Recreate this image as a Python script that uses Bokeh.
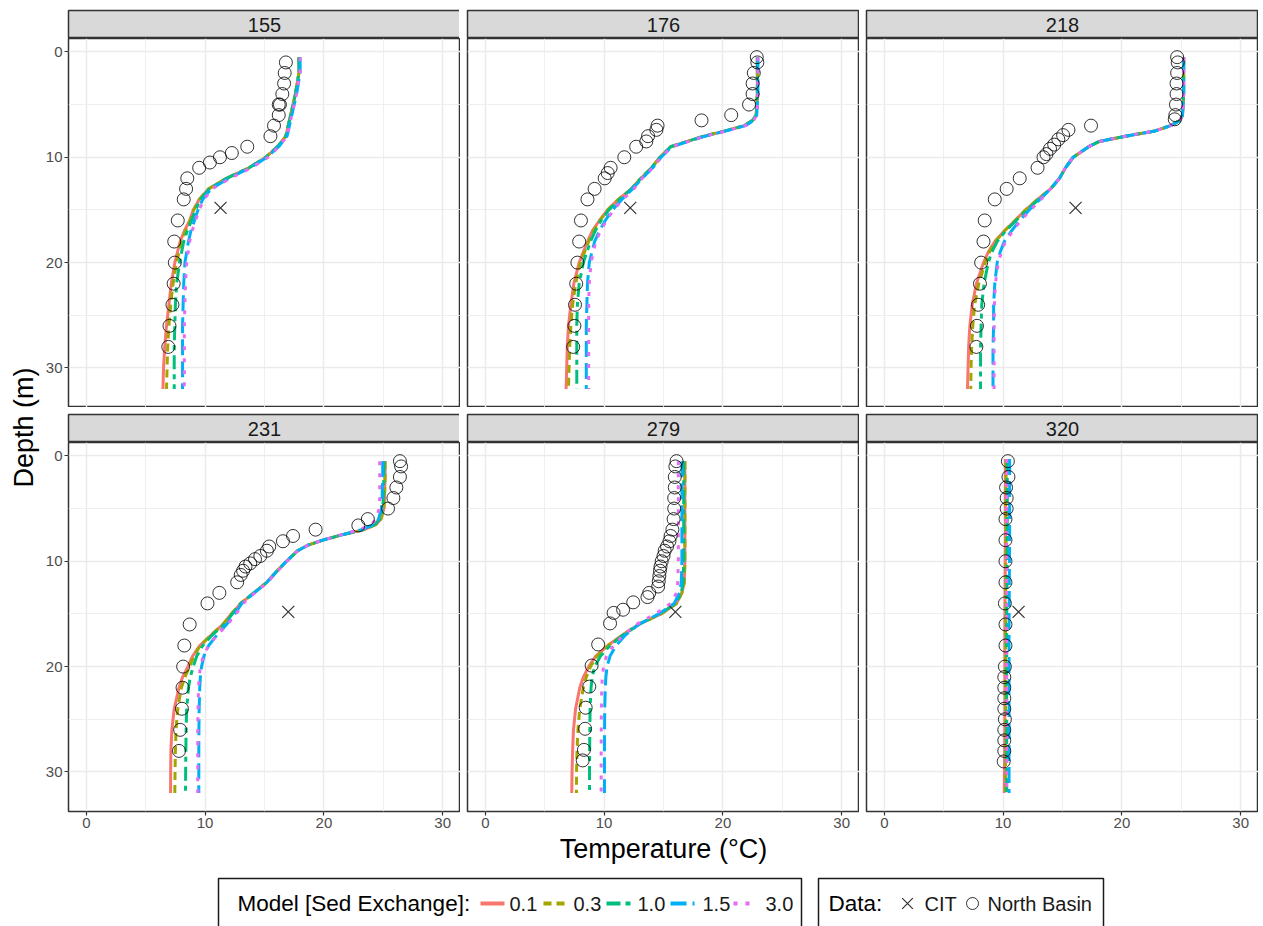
import math

from bokeh.plotting import figure
from bokeh.layouts import column, row
from bokeh.models import Range1d, FixedTicker
from bokeh.embed import file_html
from bokeh.resources import INLINE
from bokeh.core.properties import value

# ---------------------------------------------------------------- data
stations = ["155", "176", "218", "231", "279", "320"]
exchange_labels = ["0.1", "0.3", "1.0", "1.5", "3.0"]
x_ticks = [0, 10, 20, 30]
y_ticks = [0, 10, 20, 30]

# modelled profiles (temperature in degC at each depth in m), one list per sediment-exchange run
depth_155 = [0.5, 2, 4, 6, 7, 8, 9, 10, 11, 12, 13, 14, 15, 16, 17, 18, 20, 22, 24, 26, 28, 30, 32]
t01_155 = [17.9, 17.9, 17.6, 17.2, 17.0, 16.8, 16.1, 15.1, 13.7, 11.8, 10.3, 9.5, 9.0, 8.7, 8.25, 7.9, 7.45, 7.15, 6.95, 6.75, 6.6, 6.5, 6.45]
t03_155 = [17.9, 17.9, 17.6, 17.2, 17.0, 16.8, 16.1, 15.1, 13.7, 11.8, 10.3, 9.5, 9.05, 8.75, 8.35, 8.0, 7.6, 7.3, 7.1, 6.95, 6.85, 6.8, 6.75]
t10_155 = [17.9, 17.9, 17.6, 17.2, 17.0, 16.8, 16.1, 15.1, 13.7, 11.8, 10.35, 9.6, 9.2, 8.85, 8.5, 8.2, 7.85, 7.6, 7.5, 7.45, 7.4, 7.4, 7.4]
t15_155 = [18.0, 18.0, 17.7, 17.3, 17.1, 16.9, 16.2, 15.2, 13.8, 12.0, 10.5, 9.8, 9.4, 9.1, 8.8, 8.6, 8.3, 8.2, 8.15, 8.1, 8.1, 8.1, 8.1]
t30_155 = [18.0, 18.0, 17.7, 17.3, 17.1, 16.9, 16.2, 15.3, 13.9, 12.1, 10.6, 9.9, 9.5, 9.2, 8.9, 8.7, 8.45, 8.35, 8.3, 8.25, 8.25, 8.25, 8.25]

depth_176 = [0.5, 2, 4, 6, 6.5, 7, 7.5, 8, 8.5, 9, 10, 11, 12, 13, 14, 15, 16, 17, 18, 20, 22, 24, 26, 28, 30, 32]
t01_176 = [22.9, 22.9, 22.9, 22.8, 22.5, 21.8, 20.2, 18.4, 17.0, 15.6, 14.7, 14.0, 13.1, 12.3, 11.2, 10.3, 9.6, 9.0, 8.6, 7.9, 7.45, 7.2, 7.0, 6.9, 6.85, 6.8]
t03_176 = [22.9, 22.9, 22.9, 22.8, 22.5, 21.8, 20.2, 18.4, 17.0, 15.6, 14.7, 14.0, 13.1, 12.3, 11.2, 10.3, 9.65, 9.1, 8.7, 8.0, 7.6, 7.35, 7.2, 7.1, 7.05, 7.0]
t10_176 = [22.9, 22.9, 22.9, 22.8, 22.5, 21.8, 20.2, 18.4, 17.0, 15.6, 14.7, 14.0, 13.1, 12.3, 11.3, 10.4, 9.75, 9.25, 8.85, 8.25, 7.9, 7.75, 7.7, 7.7, 7.7, 7.7]
t15_176 = [22.95, 22.95, 22.95, 22.85, 22.6, 21.9, 20.3, 18.5, 17.1, 15.7, 14.8, 14.1, 13.2, 12.4, 11.5, 10.7, 10.1, 9.6, 9.2, 8.75, 8.6, 8.55, 8.5, 8.5, 8.5, 8.5]
t30_176 = [22.95, 22.95, 22.95, 22.85, 22.6, 21.9, 20.3, 18.5, 17.1, 15.7, 14.8, 14.1, 13.2, 12.5, 11.6, 10.8, 10.2, 9.7, 9.3, 8.9, 8.75, 8.7, 8.7, 8.7, 8.7, 8.7]

depth_218 = [0.5, 2, 4, 6, 6.5, 7, 7.5, 8, 8.5, 9, 10, 11, 12, 13, 14, 15, 16, 17, 18, 19, 20, 22, 24, 26, 28, 30, 32]
t01_218 = [25.2, 25.2, 25.2, 25.1, 24.9, 24.1, 22.8, 20.3, 18.1, 17.2, 15.9, 15.25, 14.75, 14.0, 12.9, 11.9, 11.0, 10.1, 9.3, 8.75, 8.35, 7.75, 7.4, 7.2, 7.1, 7.05, 7.0]
t03_218 = [25.2, 25.2, 25.2, 25.1, 24.9, 24.1, 22.8, 20.3, 18.1, 17.2, 15.9, 15.25, 14.75, 14.0, 12.9, 11.9, 11.0, 10.1, 9.35, 8.85, 8.5, 7.95, 7.6, 7.45, 7.35, 7.3, 7.28]
t10_218 = [25.2, 25.2, 25.2, 25.1, 24.9, 24.1, 22.8, 20.3, 18.1, 17.2, 15.9, 15.25, 14.75, 14.0, 13.0, 12.0, 11.1, 10.2, 9.5, 9.05, 8.75, 8.4, 8.2, 8.15, 8.1, 8.1, 8.1]
t15_218 = [25.2, 25.2, 25.2, 25.1, 24.9, 24.1, 22.8, 20.3, 18.1, 17.2, 15.9, 15.25, 14.75, 14.0, 13.1, 12.2, 11.4, 10.7, 10.1, 9.75, 9.5, 9.3, 9.2, 9.2, 9.15, 9.15, 9.15]
t30_218 = [25.2, 25.2, 25.2, 25.1, 24.9, 24.1, 22.8, 20.3, 18.1, 17.2, 15.9, 15.25, 14.75, 14.0, 13.2, 12.3, 11.5, 10.8, 10.2, 9.85, 9.6, 9.35, 9.27, 9.25, 9.24, 9.24, 9.24]

depth_231 = [0.5, 2, 4, 5, 6, 6.5, 7, 7.5, 8, 8.5, 9, 10, 11, 12, 13, 14, 15, 16, 17, 18, 19, 20, 21, 22, 24, 26, 28, 30, 32]
t01_231 = [25.15, 25.15, 25.1, 25.05, 24.8, 24.4, 23.4, 21.5, 19.9, 18.6, 17.8, 16.85, 16.0, 15.2, 14.1, 13.0, 12.2, 11.5, 10.5, 9.55, 8.95, 8.55, 8.1, 7.8, 7.4, 7.2, 7.12, 7.1, 7.09]
t03_231 = [25.15, 25.15, 25.1, 25.05, 24.8, 24.4, 23.4, 21.5, 19.9, 18.6, 17.8, 16.85, 16.0, 15.2, 14.1, 13.0, 12.2, 11.5, 10.5, 9.6, 9.05, 8.7, 8.3, 8.0, 7.7, 7.55, 7.5, 7.47, 7.45]
t10_231 = [25.05, 25.05, 25.0, 24.95, 24.7, 24.3, 23.3, 21.5, 19.9, 18.6, 17.8, 16.85, 16.0, 15.2, 14.1, 13.0, 12.3, 11.6, 10.6, 9.8, 9.3, 9.0, 8.75, 8.6, 8.45, 8.4, 8.38, 8.36, 8.35]
t15_231 = [24.95, 24.95, 24.9, 24.85, 24.6, 24.2, 23.2, 21.5, 19.9, 18.6, 17.8, 16.85, 16.0, 15.2, 14.15, 13.1, 12.5, 11.8, 11.0, 10.3, 9.9, 9.7, 9.6, 9.55, 9.5, 9.48, 9.47, 9.47, 9.47]
t30_231 = [24.7, 24.7, 24.7, 24.65, 24.4, 24.0, 23.0, 21.4, 19.9, 18.6, 17.8, 16.9, 16.05, 15.25, 14.2, 13.2, 12.6, 11.9, 11.0, 10.3, 9.85, 9.6, 9.5, 9.45, 9.4, 9.38, 9.38, 9.38, 9.38]

depth_279 = [0.5, 2, 4, 6, 8, 10, 12, 13, 14, 15, 16, 17, 18, 19, 20, 21, 22, 24, 26, 28, 30, 32]
t01_279 = [16.8, 16.8, 16.8, 16.8, 16.8, 16.8, 16.75, 16.55, 16.1, 14.8, 12.9, 11.55, 10.3, 9.3, 8.7, 8.25, 7.95, 7.6, 7.42, 7.35, 7.3, 7.28]
t03_279 = [16.8, 16.8, 16.8, 16.8, 16.8, 16.8, 16.75, 16.55, 16.1, 14.8, 12.9, 11.55, 10.35, 9.4, 8.85, 8.5, 8.25, 7.95, 7.8, 7.72, 7.68, 7.67]
t10_279 = [16.7, 16.7, 16.7, 16.7, 16.7, 16.7, 16.65, 16.5, 16.0, 14.7, 12.9, 11.6, 10.5, 9.7, 9.2, 9.0, 8.9, 8.82, 8.8, 8.78, 8.77, 8.77]
t15_279 = [16.55, 16.55, 16.55, 16.55, 16.55, 16.55, 16.5, 16.35, 15.9, 14.6, 12.9, 11.8, 11.0, 10.5, 10.25, 10.15, 10.1, 10.05, 10.04, 10.03, 10.03, 10.03]
t30_279 = [16.25, 16.25, 16.25, 16.25, 16.25, 16.25, 16.2, 16.1, 15.6, 14.3, 12.7, 11.6, 10.8, 10.2, 9.95, 9.85, 9.8, 9.77, 9.76, 9.75, 9.75, 9.75]

depth_320 = [0.3, 8, 16, 24, 32]
t01_320 = [10.2, 10.2, 10.15, 10.15, 10.1]
t03_320 = [10.25, 10.25, 10.2, 10.2, 10.2]
t10_320 = [10.35, 10.35, 10.3, 10.3, 10.3]
t15_320 = [10.55, 10.55, 10.5, 10.5, 10.5]
t30_320 = [10.3, 10.3, 10.3, 10.3, 10.3]

# North Basin profiles (observed)
obs_depth_155 = [1, 2, 3, 4, 5, 5, 6, 7, 8, 9, 9.6, 10, 10.5, 11, 12, 13, 14, 16, 18, 20, 22, 24, 26, 28]
obs_temp_155 = [16.8, 16.7, 16.65, 16.5, 16.2, 16.3, 16.2, 15.8, 15.5, 13.55, 12.25, 11.25, 10.4, 9.5, 8.5, 8.4, 8.2, 7.7, 7.4, 7.45, 7.35, 7.25, 7.0, 6.9]

obs_depth_176 = [0.5, 1, 2, 3, 4, 5, 6, 6.5, 7, 7.4, 8, 8.5, 9, 10, 11, 11.5, 12, 13, 14, 16, 18, 20, 22, 24, 26, 28]
obs_temp_176 = [22.85, 22.9, 22.6, 22.5, 22.5, 22.2, 20.7, 18.2, 14.5, 14.4, 13.7, 13.55, 12.7, 11.7, 10.55, 10.3, 10.05, 9.2, 8.6, 8.05, 7.9, 7.75, 7.65, 7.55, 7.5, 7.4]

obs_depth_218 = [0.5, 1, 2, 3, 4, 5, 6, 6.4, 7, 7.4, 7.9, 8.3, 8.8, 9.2, 9.7, 10, 11, 12, 13, 14, 16, 18, 20, 22, 24, 26, 28]
obs_temp_218 = [24.65, 24.7, 24.65, 24.6, 24.6, 24.55, 24.5, 24.45, 17.4, 15.5, 15.05, 14.65, 14.3, 13.95, 13.65, 13.4, 12.9, 11.4, 10.3, 9.3, 8.45, 8.35, 8.15, 8.05, 7.9, 7.8, 7.75]

obs_depth_231 = [0.5, 1, 2, 3, 4, 5, 6, 6.6, 7, 7.6, 8.1, 8.6, 9, 9.5, 9.8, 10.2, 10.5, 10.9, 11.3, 12, 13, 14, 16, 18, 20, 22, 24, 26, 28]
obs_temp_231 = [26.4, 26.5, 26.4, 26.1, 25.85, 25.4, 23.7, 22.9, 19.3, 17.4, 16.55, 15.4, 15.2, 14.65, 14.2, 13.8, 13.4, 13.2, 13.0, 12.7, 11.2, 10.2, 8.7, 8.25, 8.15, 8.1, 8.05, 7.9, 7.8]

obs_depth_279 = [0.5, 1, 2, 3, 4, 5, 6, 7, 7.6, 8.1, 8.6, 9, 9.5, 10, 10.5, 10.9, 11.4, 11.9, 12.4, 13, 13.4, 13.9, 14.6, 14.9, 15.9, 17.9, 19.9, 21.9, 23.9, 25.9, 27.9, 28.9]
obs_temp_279 = [16.1, 16.0, 15.95, 15.95, 15.9, 15.9, 15.85, 15.75, 15.6, 15.5, 15.3, 15.1, 15.0, 14.85, 14.75, 14.7, 14.65, 14.6, 14.55, 13.8, 13.65, 12.45, 11.6, 10.8, 10.5, 9.5, 8.95, 8.75, 8.45, 8.4, 8.3, 8.2]

obs_depth_320 = [0.5, 2, 3, 4, 5, 6, 8, 10, 12, 14, 16, 18, 20, 21, 22, 23, 24, 25, 26, 27, 28, 29]
obs_temp_320 = [10.4, 10.45, 10.25, 10.3, 10.3, 10.2, 10.2, 10.2, 10.2, 10.15, 10.2, 10.2, 10.15, 10.1, 10.1, 10.1, 10.1, 10.15, 10.1, 10.1, 10.1, 10.05]

# CIT single readings, one per station (same order as `stations`)
cit_temp = [11.3, 12.2, 16.1, 17.0, 16.0, 11.3]
cit_depth = [14.8, 14.8, 14.8, 14.8, 14.8, 14.8]

model_depths = [depth_155, depth_176, depth_218, depth_231, depth_279, depth_320]
model_temps = [
    [t01_155, t03_155, t10_155, t15_155, t30_155],
    [t01_176, t03_176, t10_176, t15_176, t30_176],
    [t01_218, t03_218, t10_218, t15_218, t30_218],
    [t01_231, t03_231, t10_231, t15_231, t30_231],
    [t01_279, t03_279, t10_279, t15_279, t30_279],
    [t01_320, t03_320, t10_320, t15_320, t30_320],
]
obs_depths = [obs_depth_155, obs_depth_176, obs_depth_218, obs_depth_231, obs_depth_279, obs_depth_320]
obs_temps = [obs_temp_155, obs_temp_176, obs_temp_218, obs_temp_231, obs_temp_279, obs_temp_320]

# ---------------------------------------------------------------- style
FONT = "Liberation Sans"
COLORS = ["#F8766D", "#A3A500", "#00BF7D", "#00B0F6", "#E76BF3"]
DASHES = ["solid", "8 5", "14 5 5 5", "16 6", "4 8"]
LINE_W = 3
FRAME_W = 392
FRAME_H = 369
STRIP_H = 28
LEFT_AXIS_W = 25
GAP = 7
BOTTOM_AXIS_H = 62
LABEL_W = 42


def make_strip(label, first_col, top_pad):
    s = figure(frame_width=FRAME_W, frame_height=STRIP_H,
               x_range=Range1d(0, 1), y_range=Range1d(0, 1),
               x_axis_location=None, y_axis_location=None,
               output_backend="svg", toolbar_location=None,
               min_border=0, min_border_left=LEFT_AXIS_W if first_col else GAP,
               min_border_top=top_pad)
    s.grid.grid_line_color = None
    s.background_fill_color = "#D9D9D9"
    s.border_fill_color = "white"
    s.outline_line_color = "#333333"
    s.outline_line_width = 1.5
    s.text(x=[0.5], y=[0.5], text=[label], text_align="center", text_baseline="middle",
           text_font=value(FONT), text_font_size="20px", text_color="#1A1A1A")
    return s


def make_panel(idx, first_col, bottom_row, xlabel=None):
    p = figure(frame_width=FRAME_W, frame_height=FRAME_H,
               x_range=Range1d(-1.5, 31.5), y_range=Range1d(33.75, -1.27),
               x_axis_location="below" if bottom_row else None,
               y_axis_location="left" if first_col else None,
               output_backend="svg", toolbar_location=None,
               min_border=0, min_border_left=LEFT_AXIS_W if first_col else GAP,
               min_border_bottom=BOTTOM_AXIS_H if bottom_row else 0)
    p.background_fill_color = "white"
    p.border_fill_color = "white"
    p.outline_line_color = "#333333"
    p.outline_line_width = 1.5

    p.xgrid.ticker = FixedTicker(ticks=x_ticks, minor_ticks=[5, 15, 25])
    p.ygrid.ticker = FixedTicker(ticks=y_ticks, minor_ticks=[5, 15, 25])
    p.grid.grid_line_color = "#EBEBEB"
    p.grid.grid_line_width = 1.5
    p.grid.minor_grid_line_color = "#EBEBEB"
    p.grid.minor_grid_line_width = 0.8

    axes = []
    if bottom_row:
        p.xaxis.ticker = FixedTicker(ticks=x_ticks)
        axes.append(p.xaxis)
    if first_col:
        p.yaxis.ticker = FixedTicker(ticks=y_ticks)
        axes.append(p.yaxis)
    for ax in axes:
        ax.axis_line_color = None
        ax.major_tick_line_color = "#333333"
        ax.major_tick_line_width = 1.2
        ax.major_tick_out = 4
        ax.major_tick_in = 0
        ax.minor_tick_line_color = None
        ax.major_label_text_font = FONT
        ax.major_label_text_font_size = "15px"
        ax.major_label_text_color = "#4D4D4D"
        ax.major_label_standoff = 2
    if xlabel:
        p.xaxis.axis_label = xlabel
        p.xaxis.axis_label_text_font = FONT
        p.xaxis.axis_label_text_font_size = "27px"
        p.xaxis.axis_label_text_font_style = "normal"
        p.xaxis.axis_label_text_color = "black"
        p.xaxis.axis_label_standoff = 3

    depth = model_depths[idx]
    for temps, color, dash in zip(model_temps[idx], COLORS, DASHES):
        p.line(x=temps, y=depth, line_color=color, line_width=LINE_W, line_dash=dash)

    p.scatter(x=obs_temps[idx], y=obs_depths[idx], marker="circle", size=13,
              fill_color=None, line_color="black", line_alpha=0.8, line_width=1)
    p.scatter(x=[cit_temp[idx]], y=[cit_depth[idx]], marker="x", size=17,
              line_color="#333333", line_width=1.2)
    return p


cols_top = []
cols_bottom = []
for i in range(3):
    strip = make_strip(stations[i], i == 0, 10)
    panel = make_panel(i, i == 0, False)
    cols_top.append(column(strip, panel, spacing=0))
for i in range(3, 6):
    strip = make_strip(stations[i], i == 3, GAP)
    panel = make_panel(i, i == 3, True, "Temperature (°C)" if i == 4 else None)
    cols_bottom.append(column(strip, panel, spacing=0))

grid_block = column(row(*cols_top, spacing=0), row(*cols_bottom, spacing=0), spacing=0)
grid_h = 10 + STRIP_H + FRAME_H + GAP + STRIP_H + FRAME_H + BOTTOM_AXIS_H

# y-axis title shared by all panels
ylab = figure(width=LABEL_W, height=grid_h, x_range=Range1d(0, LABEL_W), y_range=Range1d(grid_h, 0),
              x_axis_location=None, y_axis_location=None, output_backend="svg",
              toolbar_location=None, min_border=0)
ylab.grid.grid_line_color = None
ylab.outline_line_color = None
ylab.text(x=[23], y=[427], text=["Depth (m)"], angle=math.pi / 2, text_align="center",
          text_baseline="middle", text_font=value(FONT), text_font_size="27px",
          text_color="black")

# legend strip along the bottom
LEG_TOP = grid_h
LEG_H = 926 - grid_h
leg = figure(width=1263, height=LEG_H, x_range=Range1d(0, 1263), y_range=Range1d(926, LEG_TOP),
             x_axis_location=None, y_axis_location=None, output_backend="svg",
             toolbar_location=None, min_border=0)
leg.grid.grid_line_color = None
leg.outline_line_color = None
leg.quad(left=[218, 818], right=[801, 1103], top=[878, 878], bottom=[940, 940],
         fill_color=None, line_color="#1A1A1A", line_width=1.5)
KEY_Y = 903
leg.text(x=[237], y=[KEY_Y], text=["Model [Sed Exchange]:"], text_baseline="middle",
         text_font=value(FONT), text_font_size="22.5px", text_color="black")
key_x = [480, 543, 606, 670, 733]
lab_x = [509, 573, 637, 702, 765]
for kx, lx, color, dash, lab in zip(key_x, lab_x, COLORS, DASHES, exchange_labels):
    leg.segment(x0=[kx], y0=[KEY_Y], x1=[kx + 24], y1=[KEY_Y], line_color=color,
                line_width=LINE_W + 1, line_dash=dash)
    leg.text(x=[lx], y=[KEY_Y], text=[lab], text_baseline="middle",
             text_font=value(FONT), text_font_size="20px", text_color="#1A1A1A")
leg.text(x=[828], y=[KEY_Y], text=["Data:"], text_baseline="middle",
         text_font=value(FONT), text_font_size="22.5px", text_color="black")
leg.scatter(x=[907], y=[KEY_Y], marker="x", size=15, line_color="#333333", line_width=1.2)
leg.text(x=[924], y=[KEY_Y], text=["CIT"], text_baseline="middle",
         text_font=value(FONT), text_font_size="20px", text_color="#1A1A1A")
leg.scatter(x=[972], y=[KEY_Y], marker="circle", size=12, fill_color=None,
            line_color="black", line_alpha=0.8, line_width=1)
leg.text(x=[987], y=[KEY_Y], text=["North Basin"], text_baseline="middle",
         text_font=value(FONT), text_font_size="20px", text_color="#1A1A1A")

layout = column(row(ylab, grid_block, spacing=0), leg, spacing=0)

open("out.html", "w").write(file_html(layout, INLINE))
